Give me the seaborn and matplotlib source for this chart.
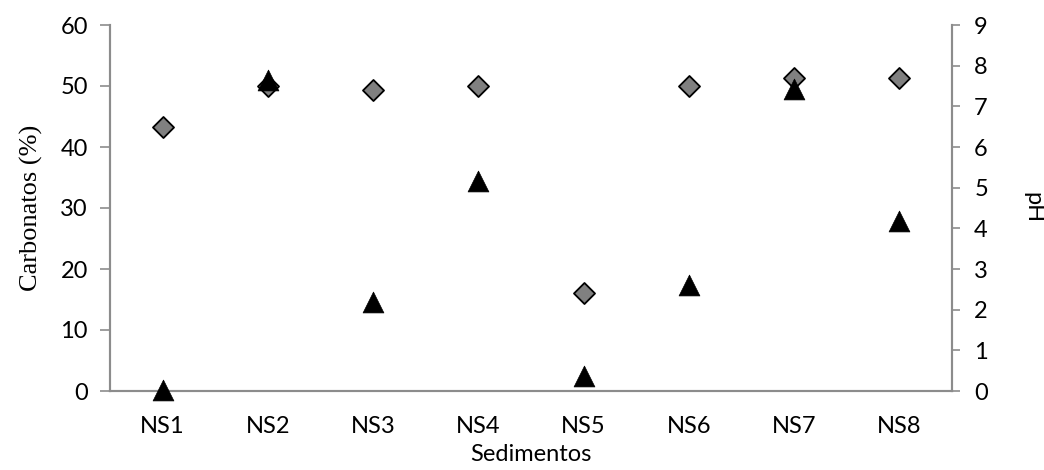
import matplotlib
matplotlib.use("Agg")
import matplotlib.pyplot as plt
import seaborn as sns
import pandas as pd

sedimentos = ["NS1", "NS2", "NS3", "NS4", "NS5", "NS6", "NS7", "NS8"]
carbonatos = [0.2, 51.0, 14.6, 34.4, 2.5, 17.4, 49.5, 27.9]
ph = [6.5, 7.5, 7.4, 7.5, 2.4, 7.5, 7.7, 7.7]

df = pd.DataFrame({"Sedimentos": sedimentos, "Carbonatos": carbonatos, "pH": ph})

sns.set_style("white")
plt.rcParams["font.family"] = ["Lato", "DejaVu Sans"]
plt.rcParams["text.color"] = "black"
plt.rcParams["axes.labelcolor"] = "black"

fig = plt.figure(figsize=(10.44, 4.70), dpi=100)
ax = fig.add_axes([110 / 1044, 1 - 391 / 470, (952 - 110) / 1044, (391 - 25) / 470])
ax2 = ax.twinx()

sns.scatterplot(data=df, x="Sedimentos", y="pH", ax=ax2, marker="D", s=115,
                color="#808080", edgecolor="black", linewidth=1.3, zorder=3, clip_on=False)
sns.scatterplot(data=df, x="Sedimentos", y="Carbonatos", ax=ax, marker="^", s=225,
                color="black", edgecolor="black", linewidth=0.5, zorder=3, clip_on=False)

# triangles drawn on top of diamonds
ax.set_zorder(ax2.get_zorder() + 1)
ax.patch.set_visible(False)

ax.set_xlim(-0.5, 7.5)
ax.set_ylim(0, 60)
ax.set_yticks(range(0, 61, 10))
ax2.set_ylim(0, 9)
ax2.set_yticks(range(0, 10))

spine_c = "#8c8c8c"
for a in (ax, ax2):
    a.spines["top"].set_visible(False)
    for side in ("left", "right", "bottom"):
        a.spines[side].set_color(spine_c)
        a.spines[side].set_linewidth(1.5)

ax.tick_params(axis="y", left=True, length=7, width=1.2, color=spine_c,
               labelsize=17, pad=9, labelcolor="black")
ax2.tick_params(axis="y", right=True, length=6, width=1.2, color=spine_c,
                labelsize=17, pad=10, labelcolor="black")
ax.tick_params(axis="x", bottom=False, length=0, labelsize=17, pad=18, labelcolor="black")

ax.set_ylabel("Carbonatos (%)", family=["Liberation Serif"], fontsize=19, labelpad=12)
ax2.set_ylabel("pH", fontsize=17, rotation=270, labelpad=40)
ax.set_xlabel("Sedimentos", fontsize=17, labelpad=5)

fig.savefig("out.png", dpi=100)
